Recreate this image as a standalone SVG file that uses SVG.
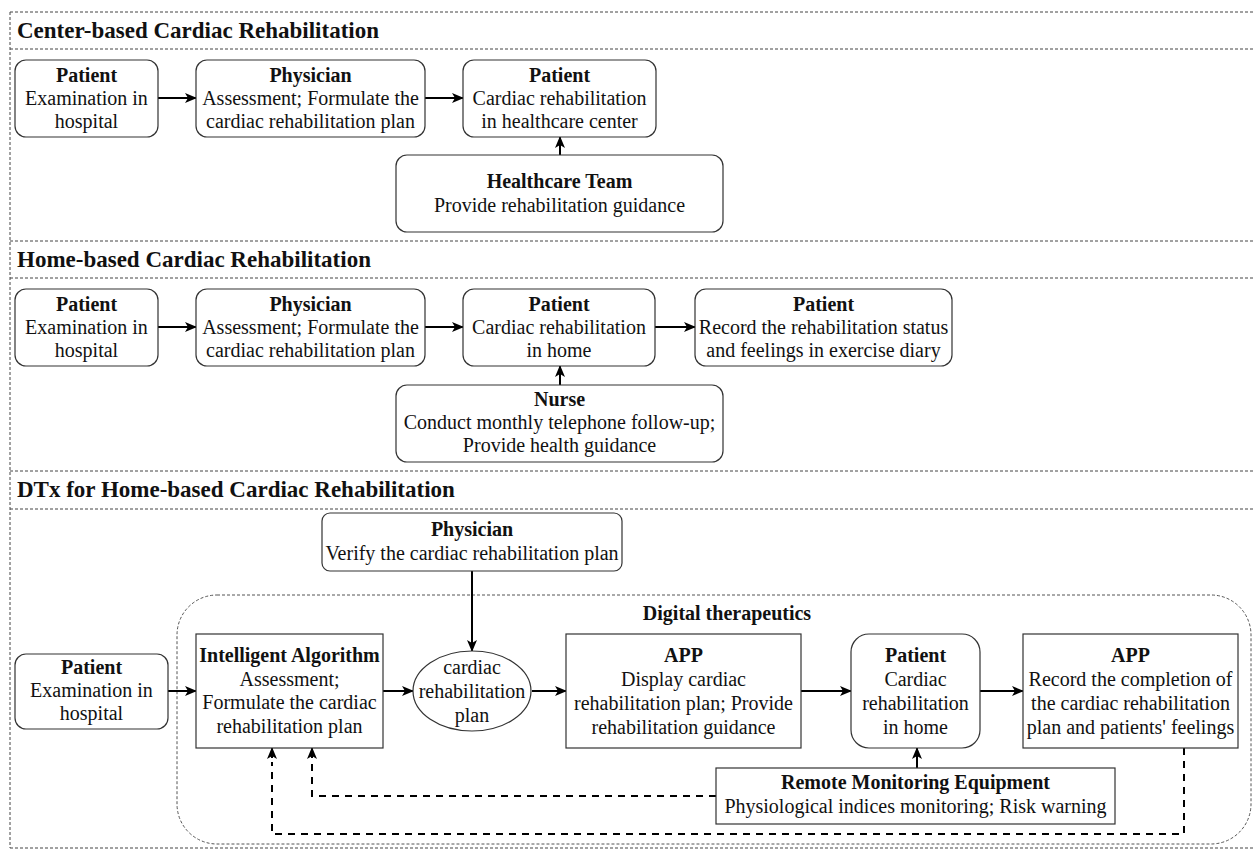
<svg xmlns="http://www.w3.org/2000/svg" width="1253" height="850" viewBox="0 0 1253 850">
<style>
.frame{fill:none;stroke:#444;stroke-width:1;stroke-dasharray:3 2}
.box{fill:#fff;stroke:#333;stroke-width:1.2}
.dt{fill:none;stroke:#555;stroke-width:1;stroke-dasharray:3 2}
text{font-family:"Liberation Serif","Times New Roman",serif;font-size:20px;fill:#111}
.t{text-anchor:middle}
.b{font-weight:bold}
.title{font-weight:bold;font-size:23px}
.arr{fill:none;stroke:#000;stroke-width:2;marker-end:url(#ah)}
.darr{fill:none;stroke:#000;stroke-width:2;stroke-dasharray:7 6}
</style>
<defs>
<marker id="ah" viewBox="0 0 12 10" refX="11" refY="5" markerWidth="6" markerHeight="5" orient="auto" markerUnits="strokeWidth">
<path d="M0,0 L12,5 L0,10 L3,5 Z" fill="#000"/>
</marker>
</defs>
<rect width="1253" height="850" fill="#fff"/>
<g id="frames">
<line class="frame" x1="10" y1="12" x2="1253" y2="12"/>
<line class="frame" x1="10" y1="12" x2="10" y2="848"/>
<line class="frame" x1="10" y1="49" x2="1253" y2="49"/>
<line class="frame" x1="10" y1="241" x2="1253" y2="241"/>
<line class="frame" x1="10" y1="278" x2="1253" y2="278"/>
<line class="frame" x1="10" y1="471" x2="1253" y2="471"/>
<line class="frame" x1="10" y1="509" x2="1253" y2="509"/>
<line class="frame" x1="10" y1="848" x2="1253" y2="848"/>
<text class="title" x="17" y="38">Center-based Cardiac Rehabilitation</text>
<text class="title" x="17" y="267">Home-based Cardiac Rehabilitation</text>
<text class="title" x="17" y="497">DTx for Home-based Cardiac Rehabilitation</text>
</g>
<g id="dt-group">
<rect class="dt" x="177" y="595" width="1074" height="249" rx="40"/>
<text class="t b" x="727" y="620">Digital therapeutics</text>
</g>
<g id="connectors">
<path class="arr" d="M158,98 L196,98"/>
<path class="arr" d="M425,98 L463,98"/>
<path class="arr" d="M560,155 L560,137"/>
<path class="arr" d="M158,327 L196,327"/>
<path class="arr" d="M425,327 L463,327"/>
<path class="arr" d="M655,327 L695,327"/>
<path class="arr" d="M560,385 L560,366"/>
<path class="arr" d="M168,691 L196,691"/>
<path class="arr" d="M383,691 L413,691"/>
<path class="arr" d="M472,571 L472,651"/>
<path class="arr" d="M532,691 L566,691"/>
<path class="arr" d="M801,691 L851,691"/>
<path class="arr" d="M980,691 L1023,691"/>
<path class="arr" d="M917,768 L917,748"/>
<path class="darr" d="M716,796 L312,796 L312,762"/>
<path class="arr" d="M312,758 L312,748"/>
<path class="darr" d="M1184,748 L1184,834 L272,834 L272,762"/>
<path class="arr" d="M272,758 L272,748"/>
</g>
<g id="s1-patient">
<rect class="box" x="15" y="60" width="143" height="77" rx="11"/>
<text class="t b" x="86.5" y="82">Patient</text>
<text class="t" x="86.5" y="105">Examination in</text>
<text class="t" x="86.5" y="128">hospital</text>
</g>
<g id="s1-physician">
<rect class="box" x="196" y="60" width="229" height="77" rx="11"/>
<text class="t b" x="310.5" y="82">Physician</text>
<text class="t" x="310.5" y="105">Assessment; Formulate the</text>
<text class="t" x="310.5" y="128">cardiac rehabilitation plan</text>
</g>
<g id="s1-patient-center">
<rect class="box" x="463" y="60" width="193" height="77" rx="11"/>
<text class="t b" x="559.5" y="82">Patient</text>
<text class="t" x="559.5" y="105">Cardiac rehabilitation</text>
<text class="t" x="559.5" y="128">in healthcare center</text>
</g>
<g id="s1-team">
<rect class="box" x="396" y="155" width="327" height="77" rx="11"/>
<text class="t b" x="559.5" y="188">Healthcare Team</text>
<text class="t" x="559.5" y="212">Provide rehabilitation guidance</text>
</g>
<g id="s2-patient">
<rect class="box" x="15" y="289" width="143" height="77" rx="11"/>
<text class="t b" x="86.5" y="311">Patient</text>
<text class="t" x="86.5" y="334">Examination in</text>
<text class="t" x="86.5" y="357">hospital</text>
</g>
<g id="s2-physician">
<rect class="box" x="196" y="289" width="229" height="77" rx="11"/>
<text class="t b" x="310.5" y="311">Physician</text>
<text class="t" x="310.5" y="334">Assessment; Formulate the</text>
<text class="t" x="310.5" y="357">cardiac rehabilitation plan</text>
</g>
<g id="s2-patient-home">
<rect class="box" x="463" y="289" width="192" height="77" rx="11"/>
<text class="t b" x="559" y="311">Patient</text>
<text class="t" x="559" y="334">Cardiac rehabilitation</text>
<text class="t" x="559" y="357">in home</text>
</g>
<g id="s2-patient-diary">
<rect class="box" x="695" y="289" width="257" height="77" rx="11"/>
<text class="t b" x="823.5" y="311">Patient</text>
<text class="t" x="823.5" y="334">Record the rehabilitation status</text>
<text class="t" x="823.5" y="357">and feelings in exercise diary</text>
</g>
<g id="s2-nurse">
<rect class="box" x="396" y="385" width="327" height="77" rx="11"/>
<text class="t b" x="559.5" y="406">Nurse</text>
<text class="t" x="559.5" y="429">Conduct monthly telephone follow-up;</text>
<text class="t" x="559.5" y="452">Provide health guidance</text>
</g>
<g id="s3-physician">
<rect class="box" x="322" y="513" width="300" height="58" rx="8"/>
<text class="t b" x="472" y="536">Physician</text>
<text class="t" x="472" y="560">Verify the cardiac rehabilitation plan</text>
</g>
<g id="s3-patient">
<rect class="box" x="15" y="654" width="153" height="75" rx="11"/>
<text class="t b" x="91.5" y="674">Patient</text>
<text class="t" x="91.5" y="697">Examination in</text>
<text class="t" x="91.5" y="720">hospital</text>
</g>
<g id="s3-algorithm">
<rect class="box" x="196" y="634" width="187" height="114"/>
<text class="t b" x="289.5" y="662">Intelligent Algorithm</text>
<text class="t" x="289.5" y="686">Assessment;</text>
<text class="t" x="289.5" y="709">Formulate the cardiac</text>
<text class="t" x="289.5" y="733">rehabilitation plan</text>
</g>
<g id="s3-plan">
<ellipse class="box" cx="472" cy="691" rx="59" ry="40"/>
<text class="t" x="472" y="674">cardiac</text>
<text class="t" x="472" y="698">rehabilitation</text>
<text class="t" x="472" y="722">plan</text>
</g>
<g id="s3-app-display">
<rect class="box" x="566" y="634" width="235" height="114"/>
<text class="t b" x="683.5" y="662">APP</text>
<text class="t" x="683.5" y="686">Display cardiac</text>
<text class="t" x="683.5" y="710">rehabilitation plan; Provide</text>
<text class="t" x="683.5" y="734">rehabilitation guidance</text>
</g>
<g id="s3-patient-home">
<rect class="box" x="851" y="634" width="129" height="114" rx="18"/>
<text class="t b" x="915.5" y="662">Patient</text>
<text class="t" x="915.5" y="686">Cardiac</text>
<text class="t" x="915.5" y="710">rehabilitation</text>
<text class="t" x="915.5" y="734">in home</text>
</g>
<g id="s3-app-record">
<rect class="box" x="1023" y="634" width="215" height="114"/>
<text class="t b" x="1130.5" y="662">APP</text>
<text class="t" x="1130.5" y="686">Record the completion of</text>
<text class="t" x="1130.5" y="710">the cardiac rehabilitation</text>
<text class="t" x="1130.5" y="734">plan and patients' feelings</text>
</g>
<g id="s3-remote">
<rect class="box" x="716" y="768" width="399" height="56"/>
<text class="t b" x="915.5" y="789">Remote Monitoring Equipment</text>
<text class="t" x="915.5" y="813">Physiological indices monitoring; Risk warning</text>
</g>
</svg>
